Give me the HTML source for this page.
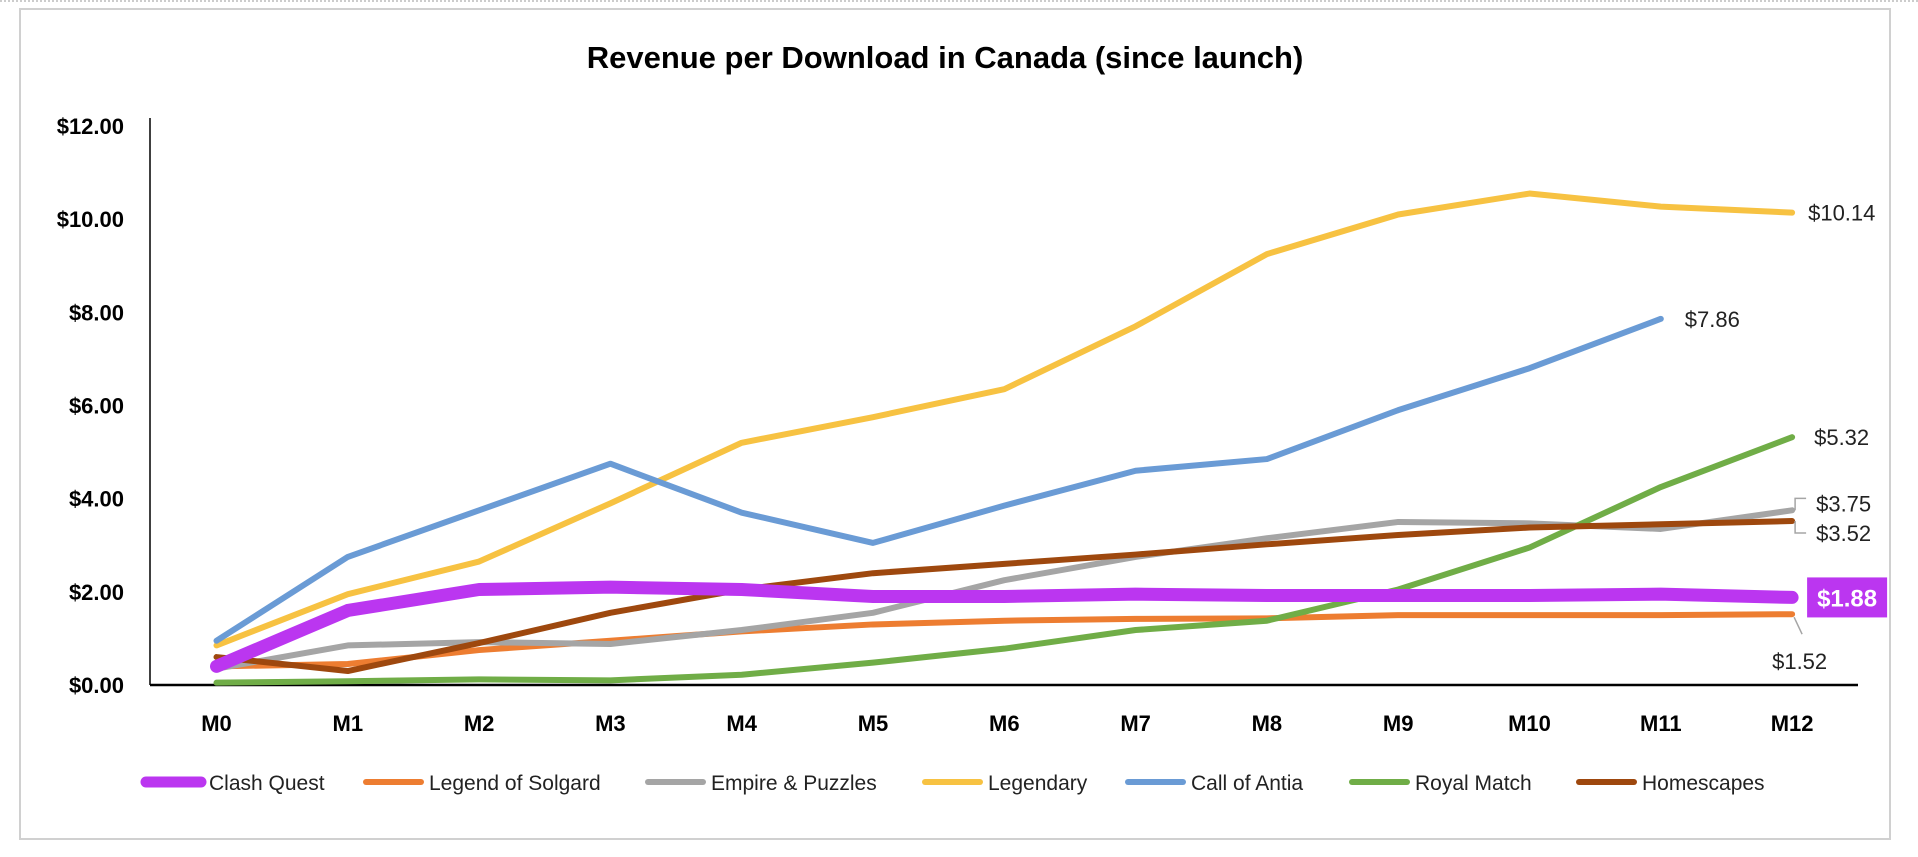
<!DOCTYPE html>
<html><head><meta charset="utf-8"><style>
html,body{margin:0;padding:0;background:#fff;}
body{width:1918px;height:852px;overflow:hidden;position:relative;font-family:"Liberation Sans",sans-serif;}
svg text{font-family:"Liberation Sans",sans-serif;}
</style></head><body>
<svg id="chart" width="1918" height="852" xmlns="http://www.w3.org/2000/svg">
<line x1="0" y1="1" x2="1918" y2="1" stroke="#999" stroke-dasharray="2,2"/>
<rect x="20" y="9" width="1870" height="830" fill="#fff" stroke="#d0d0d0" stroke-width="2"/>
<text x="945" y="68" text-anchor="middle" font-size="31" font-weight="bold" fill="#000">Revenue per Download in Canada (since launch)</text>
<g id="axes"></g><g id="series"></g><g id="labels"></g><g id="legend"></g>
</svg>
<script>
const categories=["M0","M1","M2","M3","M4","M5","M6","M7","M8","M9","M10","M11","M12"];
const yTicks=[0,2,4,6,8,10,12];
const seriesNames=["Clash Quest","Legend of Solgard","Empire & Puzzles","Legendary","Call of Antia","Royal Match","Homescapes"];
const seriesColors=["#bb36f0","#ed7d31","#a5a5a5","#f7c242","#6a9bd5","#70ad47","#9e480e"];
const clashQuest=[0.4,1.6,2.05,2.1,2.05,1.9,1.9,1.95,1.92,1.92,1.92,1.95,1.88];
const legendOfSolgard=[0.4,0.45,0.75,0.95,1.15,1.3,1.38,1.42,1.43,1.5,1.5,1.5,1.52];
const empirePuzzles=[0.35,0.85,0.92,0.88,1.18,1.55,2.25,2.75,3.15,3.5,3.47,3.35,3.75];
const legendary=[0.85,1.95,2.65,3.9,5.2,5.75,6.35,7.7,9.25,10.1,10.55,10.27,10.14];
const callOfAntia=[0.95,2.75,3.75,4.75,3.7,3.05,3.85,4.6,4.85,5.9,6.8,7.86];
const royalMatch=[0.05,0.08,0.12,0.1,0.22,0.48,0.78,1.18,1.38,2.05,2.95,4.25,5.32];
const homescapes=[0.6,0.3,0.9,1.55,2.05,2.4,2.6,2.8,3.02,3.22,3.38,3.45,3.52];
const allSeries=[clashQuest,legendOfSolgard,empirePuzzles,legendary,callOfAntia,royalMatch,homescapes];
const NS="http://www.w3.org/2000/svg";
const x0=216.5,step=131.3,yBase=685,yTop=126,yMax=12;
function xs(i){return x0+i*step;}
function ys(v){return yBase-(v/yMax)*(yBase-yTop);}
function mk(tag,attrs,parent,txt){const e=document.createElementNS(NS,tag);for(const k in attrs)e.setAttribute(k,attrs[k]);if(txt!==undefined)e.textContent=txt;parent.appendChild(e);return e;}
const axes=document.getElementById('axes');
let e=mk('line',{x1:150,y1:yTop-8,x2:150,y2:yBase,stroke:'#000','stroke-width':1.5},axes);


e=mk('line',{x1:150,y1:yBase,x2:1858,y2:yBase,stroke:'#000','stroke-width':2.5},axes);


yTicks.forEach(t=>{const el=mk('text',{x:124,y:ys(t)+8,'text-anchor':'end','font-size':22,'font-weight':'bold'},axes,'$'+t.toFixed(2));

});
categories.forEach((c,i)=>{const el=mk('text',{x:xs(i),y:731,'text-anchor':'middle','font-size':22,'font-weight':'bold'},axes,c);

});
const sg=document.getElementById('series');
const order=[1,2,3,4,5,6,0];
order.forEach(si=>{const d=allSeries[si];const pts=d.map((v,i)=>xs(i)+','+ys(v)).join(' ');
const el=mk('polyline',{points:pts,fill:'none',stroke:seriesColors[si],'stroke-width':si===0?13:6,'stroke-linejoin':'round','stroke-linecap':'round'},sg);

});
const lg=document.getElementById('labels');
function lab(txt,x,y,name){const el=mk('text',{x:x,y:y,'font-size':22,fill:'#222'},lg,txt);

}
const n=12;
lab('$'+legendary[n].toFixed(2),xs(n)+16,ys(legendary[n])+8,'label-legendary');
const ca=callOfAntia.length-1;
lab('$'+callOfAntia[ca].toFixed(2),xs(ca)+24,ys(callOfAntia[ca])+8,'label-call-of-antia');
lab('$'+royalMatch[n].toFixed(2),xs(n)+22,ys(royalMatch[n])+8,'label-royal-match');
lab('$'+empirePuzzles[n].toFixed(2),xs(n)+24,ys(empirePuzzles[n])+1,'label-empire-puzzles');
lab('$'+homescapes[n].toFixed(2),xs(n)+24,ys(homescapes[n])+20,'label-homescapes');
lab('$'+legendOfSolgard[n].toFixed(2),xs(n)-20,ys(legendOfSolgard[n])+55,'label-legend-of-solgard');
mk('polyline',{points:`${xs(n)+3},${ys(empirePuzzles[n])} ${xs(n)+3},${ys(empirePuzzles[n])-12} ${xs(n)+14},${ys(empirePuzzles[n])-12}`,fill:'none',stroke:'#a5a5a5','stroke-width':1.5},lg);
mk('polyline',{points:`${xs(n)+3},${ys(homescapes[n])} ${xs(n)+3},${ys(homescapes[n])+12} ${xs(n)+14},${ys(homescapes[n])+12}`,fill:'none',stroke:'#a5a5a5','stroke-width':1.5},lg);
mk('line',{x1:xs(n)+2,y1:ys(legendOfSolgard[n])+3,x2:xs(n)+10,y2:ys(legendOfSolgard[n])+20,stroke:'#a5a5a5','stroke-width':1.5},lg);
const bx=mk('rect',{x:xs(n)+15,y:ys(clashQuest[n])-20,width:80,height:40,fill:'#bb36f0'},lg);


const bt=mk('text',{x:xs(n)+55,y:ys(clashQuest[n])+9,'text-anchor':'middle','font-size':24,'font-weight':'bold',fill:'#fff'},lg,'$'+clashQuest[n].toFixed(2));


const leg=document.getElementById('legend');
const legX=[143,363,645,922,1125,1349,1576];
seriesNames.forEach((nm,i)=>{const g=mk('g',{},leg);


mk('line',{x1:legX[i]+3,y1:782,x2:legX[i]+58,y2:782,stroke:seriesColors[i],'stroke-width':i===0?11:6,'stroke-linecap':'round'},g);
mk('text',{x:legX[i]+66,y:790,'font-size':21,fill:'#222'},g,nm);});
</script>
</body></html>
